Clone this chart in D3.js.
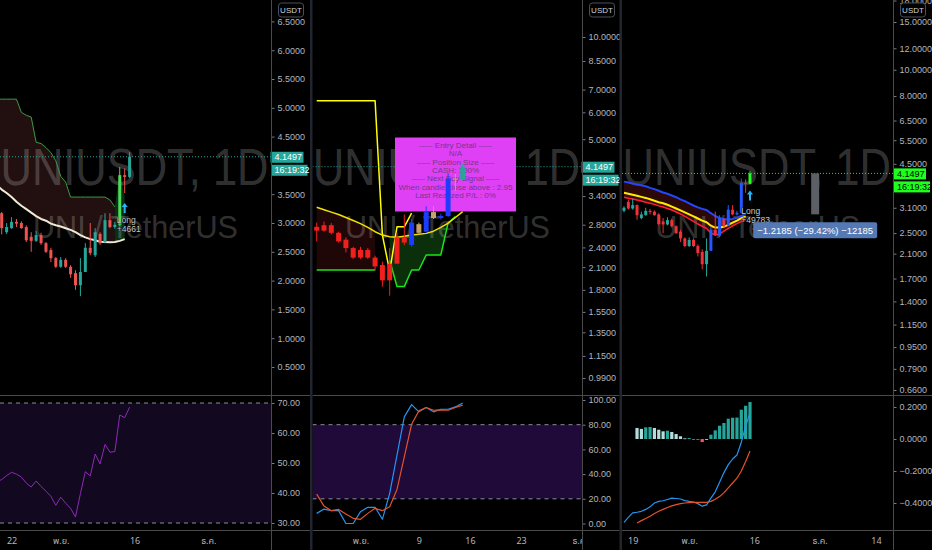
<!DOCTYPE html>
<html><head><meta charset="utf-8">
<script src="https://cdn.jsdelivr.net/npm/d3@7/dist/d3.min.js"></script>
<style>html,body{margin:0;padding:0;background:#000;overflow:hidden}svg{display:block}</style>
</head><body>
<svg id="chart" width="932" height="550"></svg>
<script>
// ================= DATA =================
const dates=["2020-10-17","2020-10-18","2020-10-19","2020-10-20","2020-10-21","2020-10-22","2020-10-23","2020-10-24","2020-10-25","2020-10-26","2020-10-27","2020-10-28","2020-10-29","2020-10-30","2020-10-31","2020-11-01","2020-11-02","2020-11-03","2020-11-04","2020-11-05","2020-11-06","2020-11-07","2020-11-08","2020-11-09","2020-11-10","2020-11-11","2020-11-12","2020-11-13","2020-11-14","2020-11-15"];
const open =[3.02,3.26,3.08,3.17,2.84,2.91,3.02,3.00,2.93,2.76,2.69,2.79,2.65,2.53,2.39,2.24,2.36,2.24,2.13,1.92,2.15,2.57,2.44,2.81,2.67,3.05,2.93,2.97,3.83,3.80];
const high =[3.14,3.32,3.35,3.19,3.00,3.10,3.07,3.03,2.96,2.84,2.86,2.83,2.67,2.57,2.41,2.41,2.39,2.27,2.18,2.39,2.65,3.00,2.91,2.84,3.17,3.17,3.02,3.97,3.95,4.23];
const low  =[2.98,3.05,3.05,2.80,2.81,2.90,2.93,2.90,2.67,2.50,2.67,2.62,2.48,2.32,2.22,2.22,2.22,2.05,1.84,1.73,2.15,2.44,2.41,2.62,2.65,2.91,2.90,2.95,3.52,3.78];
const close=[3.10,3.08,3.17,2.91,2.93,3.02,2.99,2.91,2.70,2.69,2.79,2.65,2.50,2.39,2.24,2.36,2.24,2.11,1.92,2.15,2.57,2.48,2.84,2.65,3.05,2.93,2.97,3.83,3.80,4.1497];
const lastPrice=4.1497;
const countdown="16:19:32";
const symbolLine="UNIUSDT, 1D";
const descLine="UNI / TetherUS";
const quoteUnit="USDT";

// Panel 1 indicators
const p1Baseline=[3.80,3.73,3.66,3.58,3.52,3.45,3.37,3.30,3.24,3.18,3.12,3.07,3.04,2.99,2.96,2.94,2.91,2.88,2.84,2.79,2.75,2.72,2.70,2.675,2.67,2.665,2.67,2.69,2.72,null];
const p1Stop=[5.15,5.15,5.15,5.15,5.15,5.15,5.15,4.92,4.87,4.84,4.40,4.38,4.31,4.22,4.08,3.81,3.71,3.45,3.45,3.45,3.45,3.45,3.45,3.45,3.45,3.40,3.28,null,null,null];
const p1BullTop=[null,null,null,null,null,null,null,null,null,null,null,null,null,null,null,null,null,null,null,null,null,null,null,null,null,null,3.28,3.90,3.45,null];
const rsi=[48.0,46.5,43.7,44.5,45.8,46.9,46.3,45.3,43.3,42.0,44.0,42.2,40.6,38.9,35.9,38.6,36.6,34.9,32.0,39.8,47.1,45.7,53.0,49.7,56.2,53.6,53.8,66.0,65.1,68.6];
const p1Trade=["Long","+4661"];

// Panel 2 indicators
const p2Stop=[null,null,null,null,null,null,null,null,null,6.49,6.49,6.49,6.49,6.49,6.49,6.49,6.49,6.49,2.61,2.04,2.76,2.76,3.03,null,null,null,null,null,null,null];
const p2Basis=[null,null,null,null,null,null,null,null,null,3.15,3.10,3.05,3.00,2.94,2.88,2.82,2.75,2.67,2.61,2.58,2.57,2.59,2.61,2.625,2.64,2.68,2.75,2.83,2.94,3.06];
const p2Support=[null,null,null,null,null,null,null,null,null,2.06,2.06,2.06,2.06,2.06,2.06,2.06,2.06,2.06,null,2.20,1.84,1.84,2.06,2.06,2.28,2.28,2.28,2.83,2.96,null];
const stochK=[null,null,null,null,null,null,null,null,null,8.2,11.7,10.4,10.4,0,0,9.6,13.1,13.1,3.4,24.4,55.4,86.3,96.3,90.4,93.9,90.4,92.5,92.5,94.4,97.6];
const stochD=[null,null,null,null,null,null,null,null,null,23.8,14.1,10.4,11.4,7.7,4.2,3.4,8.2,12.3,10.4,13.6,27.6,54.0,80.4,91.2,93.9,91.7,92.0,91.7,93.9,95.8];
const infoLines=["----- Entry Detail -----","N/A","----- Position Size -----","CASH: 100%","----- Next Buy Signal -----","When candle close above : 2.95","Last Realized P/L : 0%"];

// Panel 3 indicators
const emaFast=[3.87,3.84,3.81,3.78,3.75,3.72,3.67,3.63,3.58,3.53,3.49,3.44,3.39,3.33,3.28,3.22,3.16,3.11,3.07,3.04,2.96,2.89,2.84,2.82,2.81,2.82,2.85,2.89,2.95,null];
const emaMid=[3.52,3.49,3.46,3.43,3.40,3.37,3.33,3.29,3.25,3.22,3.18,3.13,3.08,3.03,2.98,2.93,2.88,2.83,2.78,2.74,2.66,2.62,2.62,2.64,2.68,2.73,2.78,2.84,2.88,null];
const emaSlow=[3.39,3.36,3.34,3.31,3.28,3.25,3.22,3.19,3.15,3.12,3.08,3.04,2.99,2.94,2.88,2.82,2.76,2.70,2.65,2.60,2.50,2.46,2.48,2.54,2.60,2.66,2.71,2.76,2.80,null];
const macd=[-0.521,-0.49,-0.462,-0.458,-0.452,-0.44,-0.424,-0.40,-0.39,-0.386,-0.378,-0.37,-0.372,-0.375,-0.385,-0.39,-0.394,-0.404,-0.42,-0.412,-0.37,-0.33,-0.27,-0.21,-0.16,-0.125,-0.10,-0.02,0.08,0.165];
const signal=[null,null,null,-0.525,-0.51,-0.497,-0.483,-0.466,-0.452,-0.44,-0.428,-0.418,-0.41,-0.404,-0.40,-0.398,-0.396,-0.396,-0.396,-0.396,-0.39,-0.376,-0.36,-0.335,-0.305,-0.275,-0.245,-0.20,-0.14,-0.075];
const hist=[null,null,null,0.069,0.063,0.073,0.075,0.069,0.058,0.048,0.052,0.044,0.031,0.017,0.004,0.006,-0.001,-0.004,-0.019,-0.005,0.027,0.054,0.083,0.100,0.127,0.133,0.134,0.183,0.208,0.231];
const p3Trade=["Long","+49783"];
const measureFrom=4.1497, measureTo=2.9312, measureDate="2020-11-30";
const measureText="\u22121.2185 (\u221229.42%) \u221212185";

// Axis ticks
const p1PriceTicks=[6.5,6,5.5,5,4.5,3.5,3,2.5,2,1.5,1,0.5];
const p2PriceTicks=[10,8.5,7,6,5,3.4,2.8,2.4,2.1,1.8,1.55,1.35,1.15,0.99];
const p3PriceTicks=[18,15,12,10,8,6.5,5.5,4.5,3.1,2.5,2.1,1.7,1.4,1.15,0.95,0.79,0.66];
const rsiTicks=[70,60,50,40,30];
const stochTicks=[100,80,60,40,20,0];
const macdTicks=[0.2,0,-0.2,-0.4];
const p1TimeTicks=["2020-10-22","2020-11-01","2020-11-16","2020-12-01"];
const p1TimeLabels=["22","พ.ย.","16","ธ.ค."];
const p2TimeTicks=["2020-11-01","2020-11-09","2020-11-16","2020-11-23","2020-12-01"];
const p2TimeLabels=["พ.ย.","9","16","23","ธ.ค."];
const p3TimeTicks=["2020-10-19","2020-11-01","2020-11-16","2020-12-01","2020-12-14"];
const p3TimeLabels=["19","พ.ย.","16","ธ.ค.","14"];

// ================= RENDER =================
const svg=d3.select("#chart");
const FONT="'Liberation Sans',Arial,sans-serif";
const TFONT="'Noto Sans Thai','Liberation Sans','Noto Sans',sans-serif";
const parse=d3.utcParse("%Y-%m-%d");
const D=dates.map(parse);
const N=dates.length, idx=d3.range(N), L=N-1;
const defs=svg.append("defs");
let clipN=0;
function clip(x,y,w,h){const id="cl"+(clipN++);defs.append("clipPath").attr("id",id).append("rect").attr("x",x).attr("y",y).attr("width",w).attr("height",h);return `url(#${id})`;}
svg.append("rect").attr("width",932).attr("height",550).attr("fill","#000");
const SEP=395.5, BOT=530.5;

function mkLine(xs,ys,arr){return d3.line().defined(i=>arr[i]!=null).x(i=>xs(D[i])).y(i=>ys(arr[i]))(idx);}
function mkArea(xs,ys,a,b){return d3.area().defined(i=>a[i]!=null&&b[i]!=null).x(i=>xs(D[i])).y0(i=>ys(b[i])).y1(i=>ys(a[i]))(idx);}
function path(g,d,stroke,w,fill){return g.append("path").attr("d",d).attr("fill",fill||"none").attr("stroke",stroke||"none").attr("stroke-width",w||1).attr("stroke-linejoin","round");}

function watermark(g,left,right){
  const cx=(left+right)/2;
  g.append("text").attr("x",cx-1).attr("y",185).attr("text-anchor","middle").attr("font-family",FONT)
   .attr("font-size",52).attr("fill","rgba(255,255,255,0.21)").attr("textLength",right-left-3).attr("lengthAdjust","spacingAndGlyphs").text(symbolLine);
  g.append("text").attr("x",cx).attr("y",238).attr("text-anchor","middle").attr("font-family",FONT)
   .attr("font-size",32).attr("fill","rgba(255,255,255,0.21)").attr("textLength",205).attr("lengthAdjust","spacingAndGlyphs").text(descLine);
}
function candles(g,xs,ys,bw,colorOf,from){
  const sel=g.append("g").selectAll("g").data(idx.filter(i=>i>=from)).join("g");
  sel.append("line").attr("x1",i=>xs(D[i])).attr("x2",i=>xs(D[i]))
     .attr("y1",i=>ys(high[i])).attr("y2",i=>ys(low[i])).attr("stroke",colorOf).attr("stroke-width",1);
  sel.append("rect").attr("x",i=>xs(D[i])-bw/2).attr("width",bw)
     .attr("y",i=>ys(Math.max(open[i],close[i])))
     .attr("height",i=>Math.max(1,Math.abs(ys(open[i])-ys(close[i])))).attr("fill",colorOf);
}
function priceAxis(ax,scale,ticks,fmt,top,bottom){
  const outer=svg.append("g").attr("clip-path",clip(ax,top,60,bottom-top));
  const g=outer.append("g").attr("transform",`translate(${ax},0)`)
    .call(d3.axisRight(scale).tickValues(ticks).tickFormat(fmt).tickSize(3).tickPadding(3));
  g.select(".domain").remove();
  g.selectAll("line").attr("stroke","#787b86");
  g.selectAll("text").attr("fill","#b2b5be").attr("font-size",9).attr("font-family",FONT);
}
function timeAxis(xs,tickDates,labels,left,right){
  const outer=svg.append("g").attr("clip-path",clip(left,BOT,right-left,20));
  const g=outer.append("g").attr("transform",`translate(0,${BOT})`)
    .call(d3.axisBottom(xs).tickValues(tickDates.map(parse)).tickFormat((d,i)=>labels[i]).tickSize(0).tickPadding(7));
  g.select(".domain").remove();
  g.selectAll("text").attr("fill","#b2b5be").attr("font-size",9).attr("font-family",TFONT);
}
function priceTag(ax,y,bg,fg){
  const g=svg.append("g").attr("font-family",FONT).attr("font-size",9);
  g.append("rect").attr("x",ax-1).attr("y",y-5).attr("width",33).attr("height",11).attr("fill",bg);
  g.append("text").attr("x",ax+3).attr("y",y+0.5).attr("dominant-baseline","central").attr("fill",fg).text(d3.format(".4f")(lastPrice));
  g.append("rect").attr("x",ax).attr("y",y+8).attr("width",36).attr("height",11).attr("fill",bg);
  g.append("text").attr("x",ax+3).attr("y",y+13.5).attr("dominant-baseline","central").attr("fill",fg).text(countdown);
}
function unitBox(ax){
  const g=svg.append("g");
  g.append("rect").attr("x",ax+7).attr("y",3).attr("width",25).attr("height",14).attr("rx",3).attr("fill","#000").attr("stroke","#4a4e59");
  g.append("text").attr("x",ax+19.5).attr("y",10.5).attr("text-anchor","middle").attr("dominant-baseline","central")
   .attr("font-family",FONT).attr("font-size",8).attr("fill","#d1d4dc").text(quoteUnit);
}
function upArrow(g,x,y,color){
  g.append("path").attr("d",`M${x},${y} l-3,4 h2 v6 h2 v-6 h2 z`).attr("fill",color);
}
function tradeLabel(g,x,y,lines){
  lines.forEach((t,k)=>g.append("text").attr("x",x).attr("y",y+k*9.5).attr("font-family",FONT).attr("font-size",8.5)
    .attr("fill","#c8c8c8").attr("stroke","#000").attr("stroke-width",0.6).attr("paint-order","stroke").text(t));
}
const fmt4=d3.format(".4f"), fmt2=d3.format(".2f");

// ---------- PANEL 1 ----------
{
  const x1=d3.scaleUtc().domain([D[3],D[L]]).range([1.7,129.6]);
  const y1=d3.scaleLinear().domain([0.5,6.5]).range([367,21.4]);
  const ry=d3.scaleLinear().domain([30,70]).range([523,403]);
  const g=svg.append("g").attr("clip-path",clip(0,0,271,SEP));
  path(g,mkArea(x1,y1,p1Stop,p1Baseline),null,0,"#221010");
  path(g,mkArea(x1,y1,p1BullTop,p1Baseline),null,0,"#0c2f12");
  watermark(g,0,271);
  path(g,mkLine(x1,y1,p1Stop),"#3f9a45",1);
  path(g,mkLine(x1,y1,p1Baseline),"#efe9d5",2);
  let entry=idx.find(i=>i>0&&p1Stop[i-1]!=null&&p1Stop[i]==null&&close[i]>p1Stop[i-1]);
  candles(g,x1,y1,3,i=>i===entry?"#4cdc5c":(close[i]>=open[i]?"#26a69a":"#ef5350"),0);
  g.append("line").attr("x1",0).attr("x2",271).attr("y1",y1(lastPrice)).attr("y2",y1(lastPrice))
   .attr("stroke","#26a69a").attr("stroke-dasharray","1,2");
  upArrow(g,x1(D[L-1]),y1(low[L-1])+10,"#29b6f6");
  tradeLabel(g,x1(D[entry])-3,y1(low[entry])-3,p1Trade);
  // RSI pane
  const gb=svg.append("g").attr("clip-path",clip(0,SEP+0.5,271,BOT-SEP-0.5));
  gb.append("rect").attr("x",0).attr("width",271).attr("y",ry(70)).attr("height",ry(30)-ry(70)).attr("fill","#12081f");
  [70,30].forEach(v=>gb.append("line").attr("x1",0).attr("x2",271).attr("y1",ry(v)).attr("y2",ry(v)).attr("stroke","#8a8d96").attr("stroke-dasharray","4,4"));
  path(gb,mkLine(x1,ry,rsi),"#8e2bb8",1);
  priceAxis(271.5,y1,p1PriceTicks,fmt4,0,SEP);
  priceAxis(271.5,ry,rsiTicks,fmt2,SEP,BOT);
  timeAxis(x1,p1TimeTicks,p1TimeLabels,0,271);
  priceTag(271.5,y1(lastPrice),"#26a69a","#fff");
  unitBox(271.5);
}

// ---------- PANEL 2 ----------
{
  const L2=312.5,R2=582.5;
  const x2=d3.scaleUtc().domain([D[9],D[L]]).range([316.7,462.7]);
  const y2=d3.scaleLog().domain([0.99,10]).range([378,37]);
  const sy=d3.scaleLinear().domain([0,100]).range([523.5,400]);
  const g=svg.append("g").attr("clip-path",clip(L2,0,R2-L2,SEP));
  const bearRange=p2Support.map((v,i)=>i<=17?v:null), bullRange=p2Support.map((v,i)=>i>=19?v:null);
  path(g,mkArea(x2,y2,p2Basis.map((v,i)=>bearRange[i]==null?null:v),bearRange),null,0,"#200707");
  path(g,mkArea(x2,y2,p2Basis.map((v,i)=>bullRange[i]==null?null:v),bullRange),null,0,"#0b2e0b");
  watermark(g,L2,R2);
  path(g,mkLine(x2,y2,p2Support),"#19e619",1.5);
  path(g,mkLine(x2,y2,p2Stop),"#ffff00",1.5);
  path(g,mkLine(x2,y2,p2Basis),"#f2e000",1.5);
  g.append("line").attr("x1",L2).attr("x2",R2).attr("y1",y2(lastPrice)).attr("y2",y2(lastPrice))
   .attr("stroke","#26a69a").attr("stroke-dasharray","1,2");
  // info table
  const bx=395,by=137.5,bw=121,bh=74;
  g.append("rect").attr("x",bx).attr("y",by).attr("width",bw).attr("height",bh).attr("fill","#e040f5");
  infoLines.forEach((t,k)=>g.append("text").attr("x",bx+bw/2).attr("y",by+10.5+k*8.3).attr("text-anchor","middle")
    .attr("font-family",FONT).attr("font-size",8).attr("fill","#73388a").text(t));
  candles(g,x2,y2,5,i=>{
    if(i===L) return "#26a69a";
    if(close[i]>p2Basis[i]) return close[i]>=open[i]?"#1e3cff":"#c8a06a";
    return "#f21f1f";
  },9);
  // Stoch pane
  const gb=svg.append("g").attr("clip-path",clip(L2,SEP+0.5,R2-L2,BOT-SEP-0.5));
  gb.append("rect").attr("x",L2).attr("width",R2-L2).attr("y",sy(80)).attr("height",sy(20)-sy(80)).attr("fill","#1f0a3a");
  [80,20].forEach(v=>gb.append("line").attr("x1",L2).attr("x2",R2).attr("y1",sy(v)).attr("y2",sy(v)).attr("stroke","#8a8d96").attr("stroke-dasharray","4,4"));
  path(gb,mkLine(x2,sy,stochK),"#2196f3",1.2);
  path(gb,mkLine(x2,sy,stochD),"#e4532a",1.2);
  priceAxis(R2,y2,p2PriceTicks,fmt4,0,SEP);
  priceAxis(R2,sy,stochTicks,fmt2,SEP,BOT);
  timeAxis(x2,p2TimeTicks,p2TimeLabels,L2,R2);
  priceTag(R2,y2(lastPrice),"#26a69a","#fff");
  unitBox(R2);
}

// ---------- PANEL 3 ----------
{
  const L3=622,R3=893.5;
  const x3=d3.scaleUtc().domain([D[0],D[L]]).range([624,750]);
  const y3=d3.scaleLog().domain([0.66,15]).range([390,22]);
  const my=d3.scaleLinear().domain([-0.4,0.2]).range([503,407]);
  const g=svg.append("g").attr("clip-path",clip(L3,0,R3-L3,SEP));
  path(g,mkArea(x3,y3,emaFast,emaMid),null,0,"#2c0909");
  path(g,mkArea(x3,y3,emaMid,emaSlow),null,0,"#3a0b0b");
  watermark(g,L3,R3);
  path(g,mkLine(x3,y3,emaSlow),"#ff1f2f",1.5);
  path(g,mkLine(x3,y3,emaMid),"#ffeb00",2);
  path(g,mkLine(x3,y3,emaFast),"#2446ff",2);
  g.append("line").attr("x1",L3).attr("x2",R3).attr("y1",y3(lastPrice)).attr("y2",y3(lastPrice))
   .attr("stroke","#1ee61e").attr("stroke-dasharray","1,2");
  candles(g,x3,y3,3,i=>{
    if(i===L) return "#22ff22";
    if(close[i]<open[i]) return "#f0303a";
    return close[i]>emaSlow[i]?"#2458ff":"#26a69a";
  },0);
  upArrow(g,x3(D[L]),y3(low[L])+6,"#29b6f6");
  tradeLabel(g,x3(D[27]),y3(low[27]),p3Trade);
  // measurement
  const mx=x3(parse(measureDate));
  g.append("rect").attr("x",mx-4).attr("width",8).attr("y",y3(measureFrom)).attr("height",y3(measureTo)-y3(measureFrom)).attr("fill","#5d5f66");
  g.append("rect").attr("x",mx-62).attr("width",124).attr("y",y3(measureTo)+8).attr("height",16).attr("rx",2).attr("fill","#5479b5");
  g.append("text").attr("x",mx).attr("y",y3(measureTo)+16.5).attr("text-anchor","middle").attr("dominant-baseline","central")
   .attr("font-family",FONT).attr("font-size",9.5).attr("fill","#ffffff").text(measureText);
  // MACD pane
  const gb=svg.append("g").attr("clip-path",clip(L3,SEP+0.5,R3-L3,BOT-SEP-0.5));
  gb.append("g").selectAll("rect").data(idx.filter(i=>hist[i]!=null)).join("rect")
    .attr("x",i=>x3(D[i])-1.6).attr("width",3.2)
    .attr("y",i=>Math.min(my(0),my(hist[i]))).attr("height",i=>Math.max(0.8,Math.abs(my(hist[i])-my(0))))
    .attr("fill",i=>{const v=hist[i],p=hist[i-1];
      if(v>=0) return (p==null||v<p)?"#b2dfdb":"#26a69a";
      return (p!=null&&v<p)?"#ff5252":"#ffcdd2";});
  path(gb,mkLine(x3,my,macd),"#2196f3",1.2);
  path(gb,mkLine(x3,my,signal),"#e4532a",1.2);
  priceAxis(R3,y3,p3PriceTicks,fmt4,0,SEP);
  priceAxis(R3,my,macdTicks,fmt4,SEP,BOT);
  timeAxis(x3,p3TimeTicks,p3TimeLabels,L3,R3);
  priceTag(R3+0.5,y3(lastPrice),"#1eff1e","#000");
  unitBox(R3);
}

// ---------- FRAME ----------
const frame=svg.append("g");
[[0,310],[312.5,619.5],[622,932]].forEach(([a,b])=>{
  frame.append("line").attr("x1",a).attr("x2",b).attr("y1",SEP).attr("y2",SEP).attr("stroke","#4a4a4a");
  frame.append("line").attr("x1",a).attr("x2",b).attr("y1",BOT).attr("y2",BOT).attr("stroke","#4a4a4a");
});
[271.5,582.5,893.5].forEach(x=>frame.append("line").attr("x1",x).attr("x2",x).attr("y1",0).attr("y2",550).attr("stroke","#4a4a4a"));
[310,619.5].forEach(x=>frame.append("rect").attr("x",x).attr("y",0).attr("width",2.5).attr("height",550).attr("fill","#22252e"));
</script>
</body></html>
